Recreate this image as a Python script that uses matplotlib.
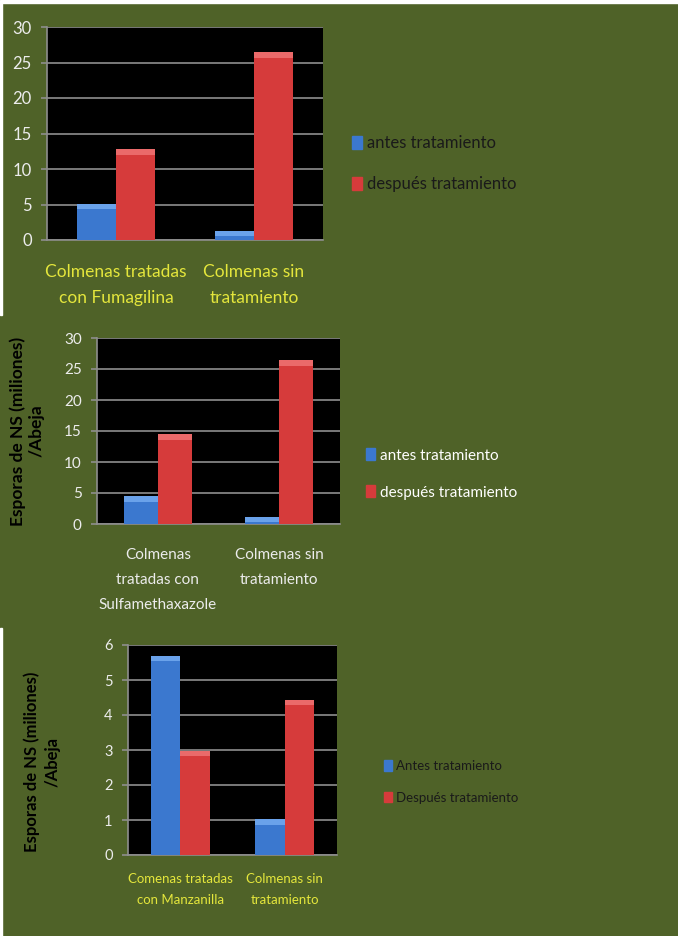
import numpy as np
import matplotlib
matplotlib.use('Agg')
import matplotlib.pyplot as plt
from matplotlib.patches import Patch

# data
cats_1 = ['Colmenas tratadas\ncon Fumagilina', 'Colmenas sin\ntratamiento']
antes_1 = [5.1, 1.3]
despues_1 = [12.8, 26.5]

cats_2 = ['Colmenas\ntratadas con\nSulfamethaxazole', 'Colmenas sin\ntratamiento']
antes_2 = [4.5, 1.2]
despues_2 = [14.5, 26.4]

cats_3 = ['Comenas tratadas\ncon Manzanilla', 'Colmenas sin\ntratamiento']
antes_3 = [5.68, 1.02]
despues_3 = [2.97, 4.43]

legend_1 = ['antes tratamiento', 'después tratamiento']
legend_3 = ['Antes tratamiento', 'Después tratamiento']
ylab = 'Esporas de NS (miliones)\n/Abeja'

plt.rcParams['font.family'] = ['Lato', 'DejaVu Sans']

GREEN = '#4f6228'
BLUE, BLUE_CAP = '#3b78cf', '#6aa2ea'
RED, RED_CAP = '#d63b3b', '#ea6a6a'
YELLOW = '#e4e63c'
LIGHT = '#ececec'

fig = plt.figure(figsize=(6.78, 9.36), dpi=100)
fig.patch.set_facecolor(GREEN)
# thin white borders of the pasted images
fig.patches.append(plt.Rectangle((0, 1 - 3/936), 1, 3/936, transform=fig.transFigure, color='white'))
fig.patches.append(plt.Rectangle((0, 1 - 315/936), 2/678, 312/936, transform=fig.transFigure, color='white'))
fig.patches.append(plt.Rectangle((0, 0), 2/678, 308/936, transform=fig.transFigure, color='white'))


def panel(rect, cats, antes, despues, ymax, step, tick_fs, cat_fs, cat_color, cat_ls,
          leg_labels, leg_fs, leg_color, leg_pos, leg_sp, cap):
    ax = fig.add_axes(rect)
    ax.set_facecolor('black')
    x = np.arange(len(cats))
    w = 0.28
    a = np.array(antes)
    d = np.array(despues)
    ax.bar(x - w/2, a, w, color=BLUE, zorder=3)
    ax.bar(x + w/2, d, w, color=RED, zorder=3)
    ax.bar(x - w/2, np.minimum(a, cap), w, bottom=a - np.minimum(a, cap), color=BLUE_CAP, zorder=4)
    ax.bar(x + w/2, np.minimum(d, cap), w, bottom=d - np.minimum(d, cap), color=RED_CAP, zorder=4)
    ax.set_xlim(-0.5, len(cats) - 0.5)
    ax.set_ylim(0, ymax)
    ax.set_yticks(np.arange(0, ymax + step / 2, step))
    ax.grid(axis='y', color='#8e8e8e', linewidth=1.2, zorder=1)
    for s in ['top', 'right']:
        ax.spines[s].set_visible(False)
    for s in ['left', 'bottom']:
        ax.spines[s].set_color('#8e8e8e')
        ax.spines[s].set_linewidth(1.2)
    ax.tick_params(axis='y', colors='#8e8e8e', labelcolor=LIGHT, labelsize=tick_fs,
                   length=4, width=1.2, pad=7)
    ax.tick_params(axis='x', length=0, pad=cat_ls[0])
    ax.set_xticks(x)
    ax.set_xticklabels(cats, fontsize=cat_fs, color=cat_color, linespacing=cat_ls[1])
    handles = [Patch(color=BLUE), Patch(color=RED)]
    fig.legend(handles, leg_labels, loc='center left', bbox_to_anchor=leg_pos,
               frameon=False, fontsize=leg_fs, labelcolor=leg_color, handlelength=0.6,
               handleheight=0.8, handletextpad=0.3, labelspacing=leg_sp,
               borderaxespad=0, borderpad=0)
    return ax


panel([47/678, 1 - 240/936, 276/678, 213/936], cats_1, antes_1, despues_1, 30, 5,
      12, 12.5, YELLOW, (17, 1.82), legend_1, 12, '#1a1a1a',
      (352/678, 1 - 164/936), 1.5, 0.8)

panel([97/678, 1 - 524/936, 243/678, 186/936], cats_2, antes_2, despues_2, 30, 5,
      11, 11, LIGHT, (17, 2.0), legend_1, 11, 'white',
      (366/678, 1 - 474/936), 1.5, 0.9)
fig.text(27/678, 1 - 431/936, ylab, rotation=90, ha='center', va='center', ma='center',
         fontsize=12.5, fontweight='bold', color='black', linespacing=1.15)

panel([128/678, 1 - 855/936, 209/678, 210/936], cats_3, antes_3, despues_3, 6, 1,
      10.5, 9.5, YELLOW, (13, 1.85), legend_3, 9.5, '#1a1a1a',
      (384/678, 1 - 782/936), 1.5, 0.15)
fig.text(42/678, 1 - 762/936, ylab, rotation=90, ha='center', va='center', ma='center',
         fontsize=12, fontweight='bold', color='black', linespacing=1.3)

fig.savefig('out.png', dpi=100, facecolor=fig.get_facecolor())
